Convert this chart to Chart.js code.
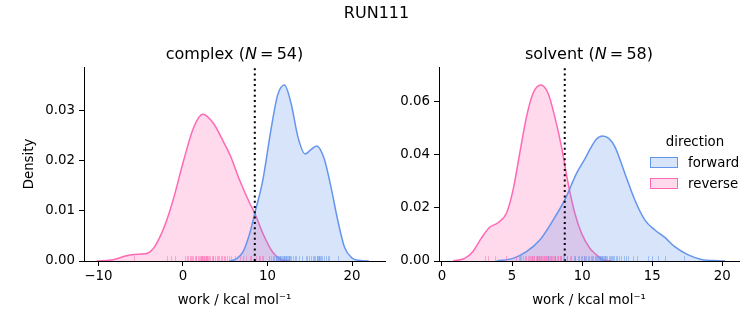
<!DOCTYPE html>
<html>
<head>
<meta charset="utf-8">
<script src="https://cdn.jsdelivr.net/npm/chart.js@4.4.0/dist/chart.umd.min.js"></script>
<style>
  body { margin: 0; background: #fff; }
  #page { position: relative; width: 753px; height: 325px; overflow: hidden; font-family: 'DejaVu Sans', sans-serif; color: #000; }
  canvas { position: absolute; top: 0; }
  .txt { position: absolute; white-space: nowrap; z-index: 2; }
  .big { font-size: 16px; line-height: 16px; }
  .small { font-size: 13.33px; line-height: 13.33px; }
  .patch { position: absolute; width: 26px; height: 9px; z-index: 2; }
</style>
</head>
<body>
<div id="page">
  <div class="txt big" style="left:0; width:753px; text-align:center; top:5px">RUN111</div>
  <div class="txt big" id="title1" style="left:84px; width:301px; text-align:center; top:46px"></div>
  <div class="txt big" id="title2" style="left:439px; width:300px; text-align:center; top:46px"></div>
  <div id="legend"></div>
  <canvas id="c1" width="400" height="325" style="left:0"></canvas>
  <canvas id="c2" width="358" height="325" style="left:395px"></canvas>
</div>
<script>
// series
var directions = ['forward', 'reverse'];
var lineColors = ['rgb(100, 149, 237)', 'rgb(255, 105, 180)'];
var fillColors = ['rgba(100, 149, 237, 0.25)', 'rgba(255, 105, 180, 0.25)'];

// complex panel
var complexN = 54;
var complexFwdX = [5.5, 6.3, 7.1, 7.9, 8.5, 9.45, 10.4, 11.2, 12.0, 12.8, 13.6, 14.45, 15.1, 15.8, 16.7, 17.5, 18.3, 19.1, 20.0, 21.0, 22.0];
var complexFwdY = [0, 0.0004, 0.0018, 0.0055, 0.0095, 0.0161, 0.026, 0.033, 0.035, 0.0313, 0.0247, 0.0213, 0.0221, 0.0229, 0.0204, 0.0148, 0.0082, 0.0028, 0.0006, 0.0001, 0];
var complexRevX = [-10.2, -8.5, -7.7, -6.8, -5.8, -4.4, -3.9, -3.4, -2.8, -2.2, -1.6, -1.05, 0.1, 1.3, 2.35, 3.6, 4.8, 5.6, 6.7, 7.9, 8.5, 9.45, 10.6, 11.6, 12.6];
var complexRevY = [0, 0.0002, 0.0005, 0.001, 0.0013, 0.00145, 0.0018, 0.0027, 0.0045, 0.0068, 0.0097, 0.0128, 0.0201, 0.0267, 0.0292, 0.0274, 0.0237, 0.021, 0.0161, 0.0115, 0.0095, 0.0055, 0.0018, 0.0003, 0];
var complexFwdRug = [7.1, 8.0, 9.0, 9.5, 10.2, 10.6, 10.8, 11.0, 11.05, 11.1, 11.2, 11.3, 11.4, 11.45, 11.5, 11.6, 11.7, 11.8, 11.9, 12.0, 12.1, 12.15, 12.2, 12.3, 12.4, 12.5, 12.6, 12.7, 12.8, 13.0, 13.2, 13.4, 13.7, 14.1, 14.5, 14.7, 14.9, 15.2, 15.4, 15.5, 15.6, 15.8, 15.9, 16.0, 16.05, 16.1, 16.2, 16.3, 16.5, 16.7, 16.9, 17.1, 17.3, 18.3];
var complexRevRug = [-5.8, -1.9, -1.45, -0.94, 0.2, 0.5, 0.6, 0.8, 1.0, 1.1, 1.2, 1.4, 1.5, 1.6, 1.8, 1.9, 2.0, 2.1, 2.15, 2.2, 2.3, 2.4, 2.45, 2.5, 2.6, 2.7, 2.75, 2.8, 2.9, 3.0, 3.1, 3.2, 3.4, 3.5, 3.6, 3.8, 4.0, 4.1, 4.3, 4.5, 4.6, 4.9, 5.0, 5.2, 5.5, 5.7, 6.1, 6.7, 7.5, 7.9, 8.7, 9.1, 9.4, 10.4];
var complexLine = 8.5;
var complexXTicks = [-10, 0, 10, 20];
var complexYTicks = [0, 0.01, 0.02, 0.03];

// solvent panel
var solventN = 58;
var solventFwdX = [3.9, 5.07, 6.03, 6.98, 7.93, 8.76, 9.6, 10.2, 10.6, 11.0, 11.45, 11.9, 12.34, 13.05, 13.76, 14.48, 15.19, 15.9, 16.6, 17.57, 18.5, 19.7, 20.2];
var solventFwdY = [0, 0.001, 0.0035, 0.0079, 0.0154, 0.023, 0.033, 0.0385, 0.0425, 0.0458, 0.0471, 0.0462, 0.043, 0.033, 0.023, 0.0154, 0.0117, 0.0089, 0.0054, 0.0023, 0.0006, 0.0001, 0];
var solventRevX = [0.8, 1.62, 2.2, 2.8, 3.4, 4.0, 4.6, 5.07, 5.55, 6.03, 6.5, 7.05, 7.57, 8.05, 8.53, 9.0, 9.48, 9.96, 10.55, 10.9, 11.5, 12.1];
var solventRevY = [0, 0.001, 0.0035, 0.0085, 0.0127, 0.0144, 0.018, 0.0267, 0.0406, 0.0543, 0.0632, 0.0663, 0.0632, 0.0543, 0.043, 0.0293, 0.018, 0.0104, 0.0048, 0.0029, 0.0004, 0];
var solventFwdRug = [5.6, 6.8, 7.6, 8.1, 8.5, 8.7, 8.9, 9.2, 9.4, 9.5, 9.7, 9.8, 9.9, 10.0, 10.1, 10.2, 10.3, 10.4, 10.5, 10.6, 10.7, 10.8, 10.9, 11.0, 11.05, 11.1, 11.2, 11.25, 11.3, 11.35, 11.4, 11.45, 11.5, 11.55, 11.6, 11.65, 11.7, 11.8, 11.9, 12.0, 12.05, 12.1, 12.2, 12.3, 12.4, 12.5, 12.6, 12.8, 13.0, 13.1, 13.3, 13.6, 13.9, 14.7, 15.0, 15.4, 15.9, 17.3];
var solventRevRug = [3.1, 3.3, 3.8, 4.55, 5.3, 5.5, 5.65, 5.8, 5.95, 6.0, 6.15, 6.2, 6.3, 6.35, 6.4, 6.45, 6.5, 6.55, 6.6, 6.7, 6.75, 6.8, 6.85, 6.9, 6.95, 7.0, 7.05, 7.1, 7.15, 7.2, 7.25, 7.3, 7.35, 7.4, 7.45, 7.5, 7.55, 7.6, 7.65, 7.7, 7.75, 7.8, 7.85, 7.9, 8.0, 8.05, 8.1, 8.2, 8.25, 8.3, 8.4, 8.45, 8.5, 8.6, 8.9, 9.1, 9.5, 10.1];
var solventLine = 8.76;
var solventXTicks = [0, 5, 10, 15, 20];
var solventYTicks = [0, 0.02, 0.04, 0.06];

Chart.defaults.font.family = "'DejaVu Sans', sans-serif";
Chart.defaults.font.size = 13.33;
Chart.defaults.color = '#000';

function toPoints(xs, ys) {
    return xs.map(function (x, i) { return { x: x, y: ys[i] }; });
}

// small tick marks along the bottom of the axes
var rugPlugin = {
    id: 'rug',
    afterDatasetsDraw: function (chart, args, opts) {
        var ctx = chart.ctx;
        var xs = chart.scales.x;
        var area = chart.chartArea;
        var h = (area.bottom - area.top) * 0.025;
        opts.sets.forEach(function (s) {
            ctx.save();
            ctx.strokeStyle = s.color;
            ctx.globalAlpha = 0.5;
            ctx.lineWidth = 1;
            s.values.forEach(function (v) {
                var px = Math.round(xs.getPixelForValue(v)) + 0.5;
                ctx.beginPath();
                ctx.moveTo(px, area.bottom);
                ctx.lineTo(px, area.bottom - h);
                ctx.stroke();
            });
            ctx.restore();
        });
    }
};

function makePanel(id, p) {
    var ctx = document.getElementById(id).getContext('2d');
    return new Chart(ctx, {
        type: 'line',
        data: {
            datasets: [
                {
                    data: [{ x: p.vline, y: 0 }, { x: p.vline, y: p.ymax }],
                    borderColor: '#000', borderWidth: 2, borderDash: [2, 3.3],
                    pointRadius: 0, fill: false, order: 0
                },
                {
                    label: directions[0], data: toPoints(p.fx, p.fy),
                    borderColor: lineColors[0], backgroundColor: fillColors[0],
                    borderWidth: 1.5, pointRadius: 0, fill: 'origin',
                    cubicInterpolationMode: 'monotone', order: 1
                },
                {
                    label: directions[1], data: toPoints(p.rx, p.ry),
                    borderColor: lineColors[1], backgroundColor: fillColors[1],
                    borderWidth: 1.5, pointRadius: 0, fill: 'origin',
                    cubicInterpolationMode: 'monotone', order: 2
                }
            ]
        },
        options: {
            responsive: false,
            animation: false,
            layout: { autoPadding: false, padding: { left: 0, right: p.padRight, top: 67, bottom: 0 } },
            plugins: {
                legend: { display: false },
                tooltip: { enabled: false },
                rug: { sets: [
                    { values: p.rr, color: lineColors[1] },
                    { values: p.fr, color: lineColors[0] }
                ] }
            },
            scales: {
                x: {
                    type: 'linear', min: p.xmin, max: p.xmax,
                    afterFit: function (s) { s.height = 64; },
                    afterBuildTicks: function (s) { s.ticks = p.xticks.map(function (v) { return { value: v }; }); },
                    ticks: {
                        autoSkip: false, maxRotation: 0, padding: 3, color: '#000',
                        callback: function (v) { return v < 0 ? '\u2212' + Math.abs(v) : String(v); }
                    },
                    grid: { drawOnChartArea: false, drawTicks: true, tickLength: 5, color: '#000', lineWidth: 1 },
                    border: { display: true, color: '#000', width: 1 },
                    title: { display: true, text: 'work / kcal mol\u207B\u00B9', padding: { top: 0, bottom: 16 } }
                },
                y: {
                    type: 'linear', min: 0, max: p.ymax,
                    afterFit: function (s) { s.width = p.yWidth; },
                    afterBuildTicks: function (s) { s.ticks = p.yticks.map(function (v) { return { value: v }; }); },
                    ticks: {
                        padding: 4, color: '#000',
                        callback: function (v) { return v.toFixed(2); }
                    },
                    grid: { drawOnChartArea: false, drawTicks: true, tickLength: 5, color: '#000', lineWidth: 1 },
                    border: { display: true, color: '#000', width: 1 },
                    title: { display: p.ylabel !== '', text: p.ylabel, padding: { top: 22, bottom: 0 } }
                }
            }
        },
        plugins: [rugPlugin]
    });
}

makePanel('c1', {
    fx: complexFwdX, fy: complexFwdY, rx: complexRevX, ry: complexRevY,
    fr: complexFwdRug, rr: complexRevRug, vline: complexLine,
    xticks: complexXTicks, yticks: complexYTicks,
    xmin: -11.7, xmax: 23.9, ymax: 0.0386,
    yWidth: 84, padRight: 15, ylabel: 'Density'
});

makePanel('c2', {
    fx: solventFwdX, fy: solventFwdY, rx: solventRevX, ry: solventRevY,
    fr: solventFwdRug, rr: solventRevRug, vline: solventLine,
    xticks: solventXTicks, yticks: solventYTicks,
    xmin: -0.21, xmax: 21.19, ymax: 0.0731,
    yWidth: 44, padRight: 14, ylabel: ''
});

document.getElementById('title1').innerHTML = 'complex (<i>N</i>\u2009=\u2009' + complexN + ')';
document.getElementById('title2').innerHTML = 'solvent (<i>N</i>\u2009=\u2009' + solventN + ')';

// legend drawn in html on top of the right panel
var legend = document.getElementById('legend');
var html = '<div class="txt small" style="left:664px; width:62px; text-align:center; top:135px">direction</div>';
directions.forEach(function (d, i) {
    var top = 157 + i * 21;
    html += '<div class="patch" style="left:650px; top:' + top + 'px; background:' + fillColors[i] + '; border:1px solid ' + lineColors[i] + '"></div>';
    html += '<div class="txt small" style="left:688px; top:' + (top - 1.5) + 'px">' + d + '</div>';
});
legend.innerHTML = html;
</script>
</body>
</html>
